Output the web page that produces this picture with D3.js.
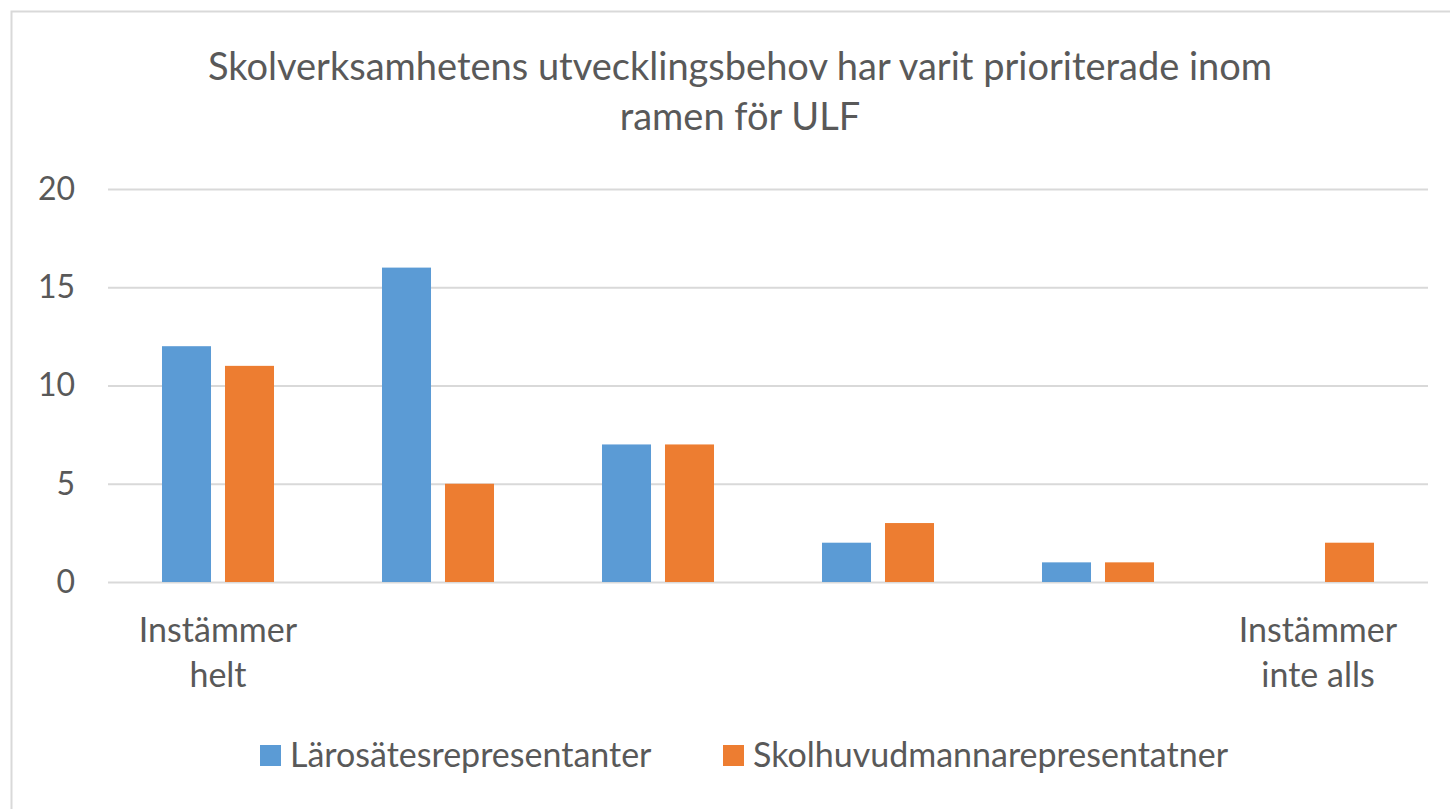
<!DOCTYPE html>
<html>
<head>
<meta charset="utf-8">
<script src="https://cdn.jsdelivr.net/npm/d3@7"></script>
<style>
  body { margin: 0; background: #fff; }
  text { font-family: Lato, "Open Sans", sans-serif; fill: #595959; }
</style>
</head>
<body>
<div id="chart"></div>
<script>
const categories = ["c1", "c2", "c3", "c4", "c5", "c6"];
const categoryLabels = [["Instämmer", "helt"], [], [], [], [], ["Instämmer", "inte alls"]];
const seriesNames = ["Lärosätesrepresentanter", "Skolhuvudmannarepresentatner"];
const laro = [12, 16, 7, 2, 1, 0];
const skol = [11, 5, 7, 3, 1, 2];
const yTicks = [0, 5, 10, 15, 20];
const titleLines = ["Skolverksamhetens utvecklingsbehov har varit prioriterade inom", "ramen för ULF"];
const colors = ["#5B9BD5", "#ED7D31"];

const width = 1450, height = 809;
const margin = { left: 108, right: 22, top: 189, bottom: 227 };

const svg = d3.select("#chart").append("svg")
    .attr("width", width)
    .attr("height", height);

// chart area border
svg.append("rect")
    .attr("x", 11.5).attr("y", 11.5)
    .attr("width", width).attr("height", height)
    .attr("fill", "none")
    .attr("stroke", "#d9d9d9")
    .attr("stroke-width", 2);

const x = d3.scaleBand()
    .domain(categories)
    .range([margin.left, width - margin.right]);

const x1 = d3.scaleBand()
    .domain([0, 1])
    .range([0, x.bandwidth()])
    .paddingInner(0.222)
    .paddingOuter(0.857);

const y = d3.scaleLinear()
    .domain([0, 20])
    .range([height - margin.bottom, margin.top]);

// gridlines + tick labels
const yAxis = d3.axisLeft(y)
    .tickValues(yTicks)
    .tickSize(-(width - margin.left - margin.right))
    .tickPadding(33);

const yg = svg.append("g")
    .attr("transform", `translate(${margin.left},0)`)
    .call(yAxis);
yg.select(".domain").remove();
yg.selectAll(".tick line").attr("stroke", "#d9d9d9").attr("stroke-width", 2);
yg.selectAll(".tick text")
    .attr("font-size", 32)
    .attr("font-family", null)
    .attr("fill", "#595959");

// bars
const series = [laro, skol];
series.forEach((vals, s) => {
    svg.append("g")
        .selectAll("rect")
        .data(vals)
        .join("rect")
        .attr("x", (d, i) => x(categories[i]) + x1(s))
        .attr("width", x1.bandwidth())
        .attr("y", d => y(d))
        .attr("height", d => y(0) - y(d))
        .attr("fill", colors[s]);
});

// category labels
const cat = svg.append("g");
categories.forEach((c, i) => {
    const t = cat.append("text")
        .attr("text-anchor", "middle")
        .attr("font-size", 34);
    categoryLabels[i].forEach((line, j) => {
        t.append("tspan")
            .attr("x", x(c) + x.bandwidth() / 2)
            .attr("y", 642 + j * 45)
            .text(line);
    });
});

// title
svg.append("g")
    .selectAll("text")
    .data(titleLines)
    .join("text")
    .attr("x", 740)
    .attr("y", (d, i) => 80 + i * 50)
    .attr("text-anchor", "middle")
    .attr("font-size", 38)
    .text(d => d);

// legend
const legendX = [260, 723];
const lg = svg.append("g");
seriesNames.forEach((name, i) => {
    lg.append("rect")
        .attr("x", legendX[i]).attr("y", 745)
        .attr("width", 21).attr("height", 21)
        .attr("fill", colors[i]);
    lg.append("text")
        .attr("x", legendX[i] + 30)
        .attr("y", 767)
        .attr("font-size", 34)
        .text(name);
});
</script>
</body>
</html>
